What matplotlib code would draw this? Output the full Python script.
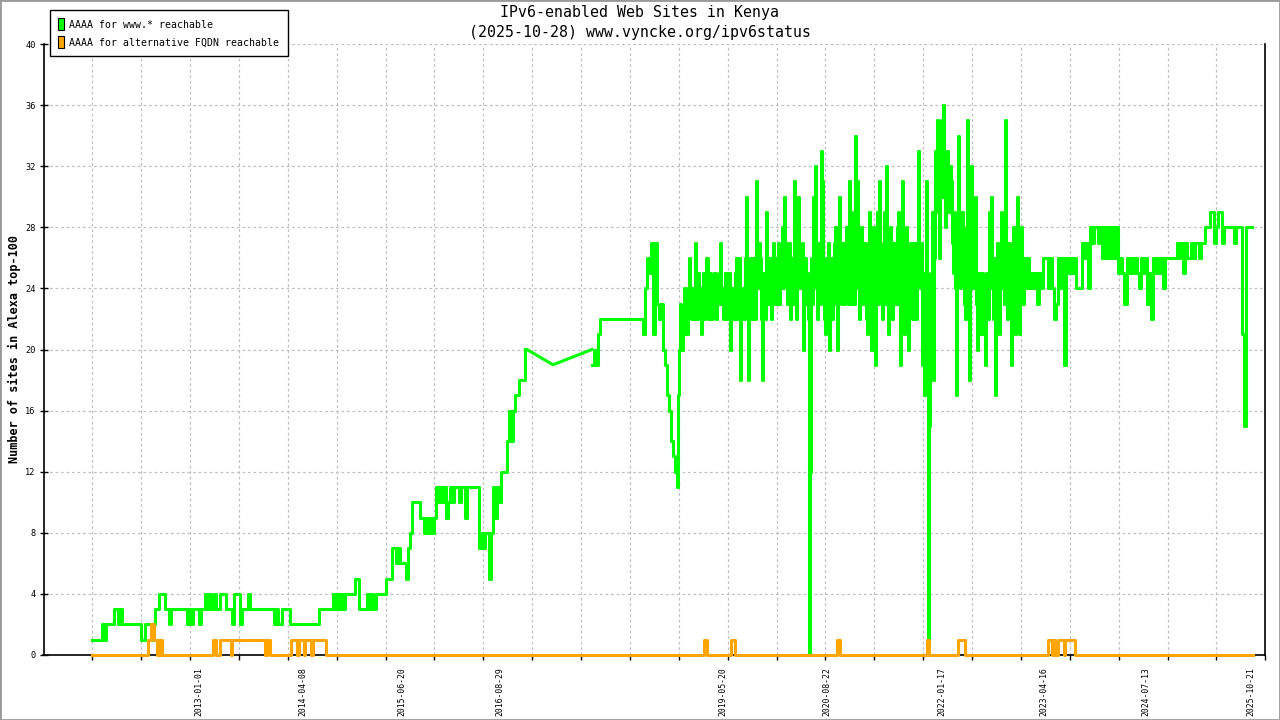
import matplotlib
matplotlib.use("Agg")
import matplotlib.pyplot as plt
import matplotlib.dates as mdates
from matplotlib.patches import Patch, Rectangle
from matplotlib.ticker import FixedLocator
import numpy as np
import pandas as pd

# ---------------- data ----------------
TITLE = "IPv6-enabled Web Sites in Kenya\n(2025-10-28) www.vyncke.org/ipv6status"
YLABEL = "Number of sites in Alexa top-100"
SERIES_NAMES = ["AAAA for www.* reachable", "AAAA for alternative FQDN reachable"]
X_TICK_LABELS = ["2013-01-01", "2014-04-08", "2015-06-20", "2016-08-29", "2019-05-20",
                 "2020-08-22", "2022-01-17", "2023-04-16", "2024-07-13", "2025-10-21"]
Y_TICKS = [0, 4, 8, 12, 16, 20, 24, 28, 32, 36, 40]

# www.* reachable: early period, one reading every 9 days
WWW_EARLY_START = "2011-09-14"
WWW_EARLY = [
    1, 1, 1, 1, 1, 2, 1, 2, 2, 2, 2, 3, 3, 2, 3, 2, 2, 2, 2, 2,
    2, 2, 2, 2, 1, 1, 2, 2, 2, 1, 2, 3, 3, 4, 4, 4, 3, 3, 2, 3,
    3, 3, 3, 3, 3, 3, 3, 2, 3, 2, 3, 3, 3, 2, 3, 3, 4, 3, 4, 3,
    4, 3, 3, 4, 4, 4, 3, 3, 3, 2, 4, 4, 4, 2, 3, 3, 3, 4, 3, 3,
    3, 3, 3, 3, 3, 3, 3, 3, 3, 3, 2, 3, 2, 2, 3, 3, 3, 3, 2, 2,
    2, 2, 2, 2, 2, 2, 2, 2, 2, 2, 2, 2, 3, 3, 3, 3, 3, 3, 3, 4,
    3, 4, 3, 4, 3, 4, 4, 4, 4, 4, 5, 5, 3, 3, 3, 3, 4, 3, 4, 3,
    4, 4, 4, 4, 4, 5, 5, 5, 7, 7, 6, 7, 6, 6, 6, 5, 7, 8, 10, 10,
    10, 10, 9, 9, 8, 9, 8, 9, 8, 9, 11, 10, 11, 10, 11, 9, 10, 11, 10, 11,
    11, 10, 11, 11, 9, 11, 11, 11, 11, 11, 11, 7, 8, 7, 8, 8, 5, 8, 11, 9,
    11, 10, 12, 12, 12, 14, 16, 14, 16, 17, 17, 18, 18, 18, 20,
]
# sparse readings 2016-2017
WWW_GAP_DATES = ["2016-12-22", "2016-12-29", "2017-04-24", "2017-10-14"]
WWW_GAP_VALUES = [20, 20, 19, 20]
# one reading every 9 days
WWW_LATE_A_START = "2017-10-14"
WWW_LATE_A = [
    19, 20, 19, 21, 22, 22, 22, 22, 22, 22, 22, 22, 22, 22, 22, 22, 22, 22, 22, 22,
    22, 22, 22, 22, 22, 21, 24, 26, 25, 27, 21, 27, 23, 22, 23, 20, 19, 17, 16, 14,
]
# busy period, one reading every 4.5 days
WWW_DENSE_START = "2018-10-09"
WWW_DENSE = [
    13, 13, 12, 12, 11, 17, 20, 23, 22, 20, 21, 24, 24, 21, 21, 23, 26, 23, 22, 24,
    24, 22, 27, 23, 22, 25, 24, 22, 21, 24, 25, 22, 23, 26, 26, 22, 22, 25, 24, 22,
    23, 25, 25, 22, 23, 25, 27, 23, 24, 22, 22, 25, 25, 22, 23, 25, 20, 24, 24, 22,
    22, 25, 26, 22, 23, 26, 18, 23, 24, 22, 22, 26, 30, 24, 18, 24, 26, 22, 22, 26,
    25, 22, 31, 24, 24, 27, 26, 22, 18, 25, 24, 22, 29, 24, 23, 26, 26, 22, 24, 27,
    26, 23, 23, 26, 27, 23, 26, 24, 28, 24, 30, 25, 27, 23, 25, 27, 22, 25, 26, 23,
    31, 24, 22, 26, 30, 24, 24, 27, 20, 25, 26, 23, 25, 22, 0, 12, 26, 23, 30, 25,
    32, 24, 22, 27, 27, 23, 33, 31, 25, 22, 21, 26, 23, 27, 20, 25, 26, 22, 24, 27,
    28, 23, 20, 25, 30, 24, 23, 27, 27, 23, 24, 28, 28, 23, 31, 25, 23, 27, 29, 23,
    34, 26, 31, 24, 22, 27, 28, 23, 23, 27, 27, 22, 21, 26, 29, 23, 20, 25, 28, 23,
    19, 25, 29, 23, 31, 24, 22, 27, 29, 23, 32, 25, 21, 26, 28, 22, 22, 27, 27, 23,
    23, 28, 29, 23, 19, 26, 31, 24, 21, 27, 28, 22, 20, 26, 27, 23, 22, 27, 27, 22,
    22, 27, 33, 25, 24, 27, 19, 25, 17, 24, 31, 25, 0, 15, 24, 25, 29, 18, 26, 33,
    29, 35, 30, 26, 31, 35, 30, 36, 31, 28, 32, 33, 29, 29, 32, 31, 27, 25, 29, 24,
    17, 26, 34, 27, 24, 29, 27, 23, 22, 28, 35, 25, 18, 26, 32, 24, 24, 28, 30, 23,
    20, 25, 25, 21, 21, 25, 24, 21, 19, 25, 25, 22, 29, 24, 30, 25, 22, 26, 17, 24,
    27, 23, 21, 26, 29, 24, 26, 23, 35, 26, 22, 27, 27, 23, 19, 25, 28, 23, 21, 26,
    30, 24, 21, 27, 28, 23, 23, 26, 26, 24, 24, 26, 25, 24, 24, 25, 25, 24, 24, 25,
]
# calmer period, one reading every 9 days
WWW_LATE_B_START = "2023-03-17"
WWW_LATE_B = [
    23, 25, 24, 26, 26, 24, 26, 24, 22, 23, 26, 24, 26, 19, 26, 25, 26, 25, 26, 24,
    24, 24, 27, 26, 27, 24, 28, 27, 28, 28, 27, 28, 26, 28, 26, 28, 26, 28, 26, 28,
    25, 26, 25, 23, 26, 25, 26, 25, 26, 25, 24, 26, 25, 26, 23, 25, 22, 26, 25, 26,
    25, 26, 24, 26, 26, 26, 26, 26, 26, 27, 26, 27, 25, 27, 26, 26, 27, 26, 27, 27,
    26, 27, 27, 28, 28, 29, 29, 27, 28, 29, 29, 27, 28, 28, 28, 28, 28, 27, 28, 28,
    28, 21, 15, 28, 28, 28, 28,
]

# alternative FQDN reachable: value changes
ALT_DATES = [
    "2011-09-14", "2012-05-20", "2012-06-02", "2012-06-15", "2012-06-29", "2012-07-03",
    "2012-07-12", "2012-07-17", "2012-07-23",
    "2013-03-05", "2013-03-20", "2013-04-03", "2013-05-24", "2013-05-28", "2013-10-22",
    "2013-10-31", "2013-11-11",
    "2014-02-13", "2014-03-13", "2014-03-22", "2014-04-13", "2014-04-18", "2014-05-14",
    "2014-05-23", "2014-07-22",
    "2019-02-24", "2019-03-09", "2019-06-22", "2019-07-10", "2020-10-09", "2020-10-20",
    "2021-11-09", "2021-11-20",
    "2022-03-29", "2022-04-27", "2023-05-03", "2023-05-20", "2023-05-25", "2023-06-05",
    "2023-06-16", "2023-07-13", "2023-07-17", "2023-08-29", "2025-10-28",
]
ALT_VALUES = [
    0, 1, 2, 1, 0, 1, 0, 1, 0,
    1, 0, 1, 0, 1, 0, 1, 0,
    1, 0, 1, 0, 1, 0, 1, 0,
    1, 0, 1, 0, 1, 0, 1, 0,
    1, 0, 1, 0, 1, 0, 1, 0, 1, 0, 0,
]

GREEN = "#00ff00"
ORANGE = "#ffa500"
GRID = "#c0c0c0"

# ---------------- figure ----------------
plt.rcParams["font.family"] = ["DejaVu Sans Mono", "DejaVu Sans"]
W, H = 1280, 720
fig = plt.figure(figsize=(W / 100, H / 100), dpi=100)
fig.patch.set_facecolor("white")

left_px, right_px, top_px, bot_px = 43.5, 1265.4, 44, 655
ax = fig.add_axes([left_px / W, 1 - bot_px / H, (right_px - left_px) / W, (bot_px - top_px) / H])

early_x = pd.date_range(WWW_EARLY_START, periods=len(WWW_EARLY), freq="9D")
gap_x = pd.to_datetime(WWW_GAP_DATES)
late_x = np.concatenate([
    pd.date_range(WWW_LATE_A_START, periods=len(WWW_LATE_A), freq="9D").values,
    pd.date_range(WWW_DENSE_START, periods=len(WWW_DENSE), freq="108h").values,
    pd.date_range(WWW_LATE_B_START, periods=len(WWW_LATE_B), freq="9D").values,
])
late_y = WWW_LATE_A + WWW_DENSE + WWW_LATE_B
alt_x = pd.to_datetime(ALT_DATES)

lw = 2.2
ax.plot(early_x, WWW_EARLY, drawstyle="steps-post", color=GREEN, lw=lw, clip_on=False, zorder=3)
ax.plot(gap_x, WWW_GAP_VALUES, color=GREEN, lw=lw, clip_on=False, zorder=3)
ax.plot(late_x, late_y, drawstyle="steps-post", color=GREEN, lw=lw, clip_on=False, zorder=3)
ax.plot(alt_x, ALT_VALUES, drawstyle="steps-post", color=ORANGE, lw=lw, clip_on=False, zorder=4)

# x scale
base = mdates.date2num(pd.Timestamp("2013-01-01"))
ax.set_xlim(base - 690.7, base + 4740.3)
ax.set_ylim(0, 40)

label_pos = mdates.date2num(pd.to_datetime(X_TICK_LABELS))
ax.set_xticks(label_pos)
ax.set_xticklabels(X_TICK_LABELS)
minor_pos = base - 473.8 + 217.24 * np.arange(-1, 25)
ax.xaxis.set_minor_locator(FixedLocator(minor_pos))
ax.tick_params(axis="x", which="major", length=0, labelrotation=90, labelsize=5.9, pad=8.5)
ax.tick_params(axis="x", which="minor", length=3.8, width=1.0, direction="out", color="black")

ax.set_yticks(Y_TICKS)
ax.tick_params(axis="y", which="major", direction="inout", length=6, width=1.0,
               labelsize=6.2, pad=2.5)

ax.grid(False)
ax.grid(True, which="minor", axis="x", color=GRID, lw=0.9, linestyle=(0, (2.2, 2.2)))
ax.grid(True, which="major", axis="y", color=GRID, lw=0.9, linestyle=(0, (2.2, 2.2)))
ax.set_axisbelow(True)

ax.spines["top"].set_visible(False)
for s in ("left", "bottom", "right"):
    ax.spines[s].set_color("black")
    ax.spines[s].set_linewidth(1.2)

# titles
fig.text(0.5, 1 - 5 / H, TITLE, ha="center", va="top", fontsize=10.7, linespacing=1.4)
fig.text(14 / W, 1 - 349.5 / H, YLABEL, rotation=90, ha="center", va="center",
         fontsize=8.5, fontweight="bold")

# legend
handles = [Patch(facecolor=GREEN, edgecolor="black", lw=0.8),
           Patch(facecolor=ORANGE, edgecolor="black", lw=0.8)]
leg = fig.legend(handles, SERIES_NAMES, loc="upper left", bbox_to_anchor=(50 / W, 1 - 10 / H),
                 frameon=True, fancybox=False, edgecolor="black", framealpha=1,
                 borderaxespad=0, prop={"size": 7.15}, handlelength=0.6, handleheight=1.45,
                 handletextpad=0.5, labelspacing=0.6, borderpad=0.85)
leg.get_frame().set_linewidth(1.0)

# figure border
fig.add_artist(Rectangle((0, 0), 1, 1, transform=fig.transFigure, fill=False,
                         edgecolor="#999999", lw=2))

fig.savefig("out.png", dpi=100)
